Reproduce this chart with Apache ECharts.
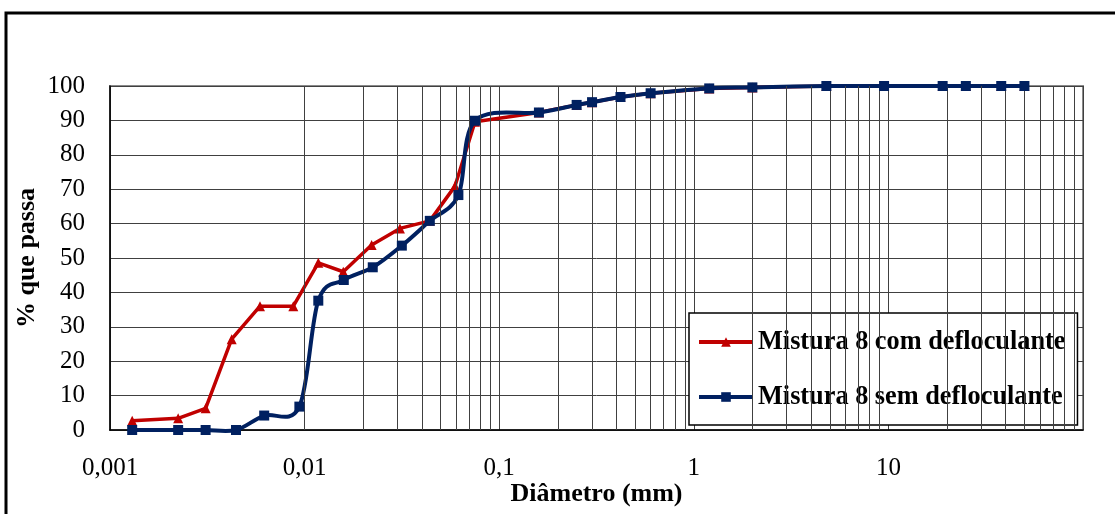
<!DOCTYPE html>
<html>
<head>
<meta charset="utf-8">
<script src="https://cdn.jsdelivr.net/npm/echarts@6/dist/echarts.min.js"></script>
<style>html,body{margin:0;padding:0;background:#fff;}#c{width:1115px;height:514px;}</style>
</head>
<body>
<div id="c"></div>
<script>
// ---- data (diameter in mm, % passing) ----
const comDiam = [0.0013, 0.00224, 0.0031, 0.00422, 0.0059, 0.00875, 0.01176, 0.0158, 0.0221, 0.0309, 0.044, 0.0593, 0.0751, 0.16, 0.25, 0.3, 0.42, 0.6, 1.2, 2.0, 4.8, 9.5, 19, 25, 38, 50];
const comPassa = [2.7, 3.4, 6.3, 26.4, 36.0, 36.0, 48.6, 46.0, 53.8, 58.6, 60.8, 70.9, 89.6, 92.3, 94.5, 95.3, 96.8, 97.9, 99.3, 99.6, 100, 100, 100, 100, 100, 100];
const semDiam = [0.0013, 0.00224, 0.0031, 0.00444, 0.0062, 0.0094, 0.01176, 0.0159, 0.0224, 0.0316, 0.044, 0.0617, 0.0751, 0.16, 0.25, 0.3, 0.42, 0.6, 1.2, 2.0, 4.8, 9.5, 19, 25, 38, 50];
const semPassa = [0, 0, 0, 0, 4.2, 6.8, 37.6, 43.6, 47.3, 53.6, 60.8, 68.3, 89.9, 92.3, 94.5, 95.3, 96.8, 97.9, 99.3, 99.6, 100, 100, 100, 100, 100, 100];
const seriesNames = ['Mistura 8 com defloculante', 'Mistura 8 sem defloculante'];
const xTickLabels = {'0.001': '0,001', '0.01': '0,01', '0.1': '0,1', '1': '1', '10': '10', '100': ''};
const decades = [0.001, 0.01, 0.1, 1, 10];
const minorMultipliers = [2, 3, 4, 5, 6, 7, 8, 9];

const RED = '#C00000', BLUE = '#002060';
const minorGrid = [];
decades.forEach(d => minorMultipliers.forEach(k => minorGrid.push({xAxis: +(k * d).toPrecision(3)})));

const zip = (a, b) => a.map((v, i) => [v, b[i]]);
const FONT = '"Liberation Serif", "Times New Roman", serif';

// Excel-like smoothed line (Catmull-Rom through the points, in pixel space)
function renderSmooth(params, api) {
  if (params.dataIndex !== 0) return null;
  const pts = semDiam.map((d, i) => api.coord([d, semPassa[i]]));
  const t = 1 / 6;
  const children = [];
  for (let i = 0; i < pts.length - 1; i++) {
    const p0 = pts[i - 1] || pts[i], p1 = pts[i], p2 = pts[i + 1], p3 = pts[i + 2] || pts[i + 1];
    children.push({
      type: 'bezierCurve',
      shape: {
        x1: p1[0], y1: p1[1], x2: p2[0], y2: p2[1],
        cpx1: p1[0] + (p2[0] - p0[0]) * t, cpy1: p1[1] + (p2[1] - p0[1]) * t,
        cpx2: p2[0] - (p3[0] - p1[0]) * t, cpy2: p2[1] - (p3[1] - p1[1]) * t
      },
      style: {stroke: BLUE, lineWidth: 4, fill: null, lineCap: 'round', lineJoin: 'round'}
    });
  }
  return {type: 'group', children: children};
}

const chart = echarts.init(document.getElementById('c'), null, {renderer: 'canvas'});
chart.setOption({
  animation: false,
  backgroundColor: '#fff',
  graphic: [{
    type: 'rect', z: 100, silent: true,
    shape: {x: 6, y: 13, width: 1300, height: 700},
    style: {fill: 'none', stroke: '#000', lineWidth: 3}
  }],
  grid: {left: 110, right: 32, top: 86, bottom: 84, show: true, borderColor: '#8a8a8a', borderWidth: 2, backgroundColor: 'transparent', containLabel: false, outerBoundsMode: 'none'},
  legend: {
    data: [
      {name: seriesNames[0], lineStyle: {color: RED, width: 4, opacity: 1}},
      {name: seriesNames[1], lineStyle: {color: BLUE, width: 4, opacity: 1}}
    ],
    orient: 'vertical',
    left: 689, top: 313,
    padding: [14, 12, 13, 8],
    itemGap: 25,
    itemWidth: 54, itemHeight: 12,
    backgroundColor: '#fff',
    borderColor: '#000', borderWidth: 1.5,
    textStyle: {fontFamily: FONT, fontWeight: 'bold', fontSize: 26.3, color: '#000', lineHeight: 30}
  },
  xAxis: {
    type: 'log', logBase: 10, min: 0.001, max: 100, splitNumber: 5,
    name: 'Diâmetro (mm)', nameLocation: 'middle', nameGap: 51, nameMoveOverlap: false,
    nameTextStyle: {fontFamily: FONT, fontWeight: 'bold', fontSize: 26, color: '#000'},
    axisLine: {show: true, lineStyle: {color: '#000', width: 1.5}},
    axisTick: {show: false},
    axisLabel: {
      fontFamily: FONT, fontSize: 25, color: '#000', margin: 26,
      formatter: v => { const k = String(+(+v).toPrecision(3)); return k in xTickLabels ? xTickLabels[k] : ''; }
    },
    splitLine: {show: true, lineStyle: {color: '#404040', width: 1}}
  },
  yAxis: {
    type: 'value', min: 0, max: 100, interval: 10,
    name: '% que passa', nameLocation: 'middle', nameGap: 70, nameMoveOverlap: false,
    nameTextStyle: {fontFamily: FONT, fontWeight: 'bold', fontSize: 26, color: '#000'},
    axisLine: {show: true, lineStyle: {color: '#000', width: 1.5}},
    axisTick: {show: false},
    axisLabel: {fontFamily: FONT, fontSize: 25, color: '#000', margin: 25},
    splitLine: {show: true, lineStyle: {color: '#404040', width: 1}}
  },
  series: [
    {
      name: 'grid-minor', type: 'line', data: [], silent: true, z: 1,
      markLine: {
        silent: true, symbol: ['none', 'none'], label: {show: false},
        lineStyle: {color: '#404040', width: 1, type: 'solid'},
        emphasis: {disabled: true},
        data: minorGrid
      }
    },
    {
      name: seriesNames[0], type: 'line', z: 3,
      data: zip(comDiam, comPassa),
      symbol: 'triangle', symbolSize: 10,
      lineStyle: {color: RED, width: 3.5},
      itemStyle: {color: RED}
    },
    {
      name: 'sem-curve', type: 'custom', z: 4, silent: true,
      data: [[semDiam[0], semPassa[0]]],
      renderItem: renderSmooth
    },
    {
      name: seriesNames[1], type: 'line', z: 5,
      data: zip(semDiam, semPassa),
      symbol: 'rect', symbolSize: 10,
      lineStyle: {color: BLUE, width: 4, opacity: 0},
      itemStyle: {color: BLUE}
    }
  ]
});
</script>
</body>
</html>
